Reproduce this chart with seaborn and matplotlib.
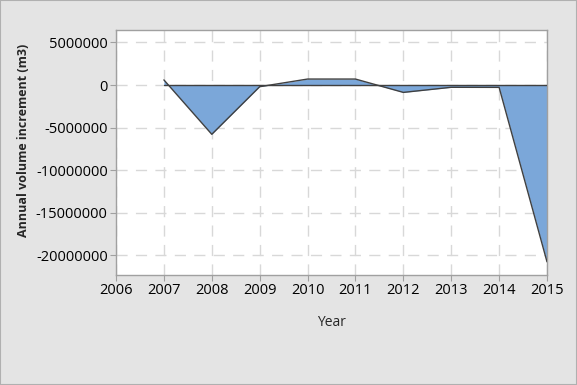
import matplotlib.pyplot as plt
import seaborn as sns
import pandas as pd
import numpy as np

# dados
anos = [2007, 2008, 2009, 2010, 2011, 2012, 2013, 2014, 2015]
incremento = [600000, -5800000, -200000, 700000, 700000, -870000, -270000, -280000, -20800000]
ticks_x = list(range(2006, 2016))
ticks_y = [5000000, 0, -5000000, -10000000, -15000000, -20000000]

df = pd.DataFrame({'Year': anos, 'Incremento': incremento})

sns.set_style('white')
plt.rcParams['font.family'] = ['Open Sans', 'DejaVu Sans']

fig = plt.figure(figsize=(5.77, 3.85), dpi=100, facecolor='#e4e4e4')
ax = fig.add_axes([116 / 577, 1 - 275 / 385, (547 - 116) / 577, (275 - 30) / 385])
ax.set_facecolor('white')

ax.fill_between(df['Year'], df['Incremento'], 0, color='#7ba7d9', lw=0, zorder=2)
sns.lineplot(data=df, x='Year', y='Incremento', color='#404040', lw=1, ax=ax, zorder=3)
ax.plot([anos[0], anos[-1]], [0, 0], color='#404040', lw=1, zorder=3)

ax.set_xlim(2006, 2015)
ax.set_ylim(-22350000, 6470000)
ax.set_xticks(ticks_x)
ax.set_yticks(ticks_y)
ax.set_yticklabels([str(v) for v in ticks_y])
ax.grid(True, color='#d8d8d8', ls=(0, (8, 6)), lw=1, zorder=0)

for s in ax.spines.values():
    s.set_color('#a0a0a0')
    s.set_linewidth(1)

ax.tick_params(axis='both', which='both', direction='out', length=4, color='#a0a0a0',
               labelsize=10.5, labelcolor='black', pad=2, left=True, bottom=True)

ax.set_xlabel('Year', fontsize=10, labelpad=12)
ax.set_ylabel('Annual volume increment (m3)', fontsize=9, fontweight='bold')
ax.yaxis.set_label_coords(-0.2, 0.55)

fig.patches.append(plt.Rectangle((0, 0), 1, 1, transform=fig.transFigure, fill=False,
                                 ec='#b0b0b0', lw=1.5))

fig.savefig('out.png', dpi=100, facecolor=fig.get_facecolor())
plt.close()
